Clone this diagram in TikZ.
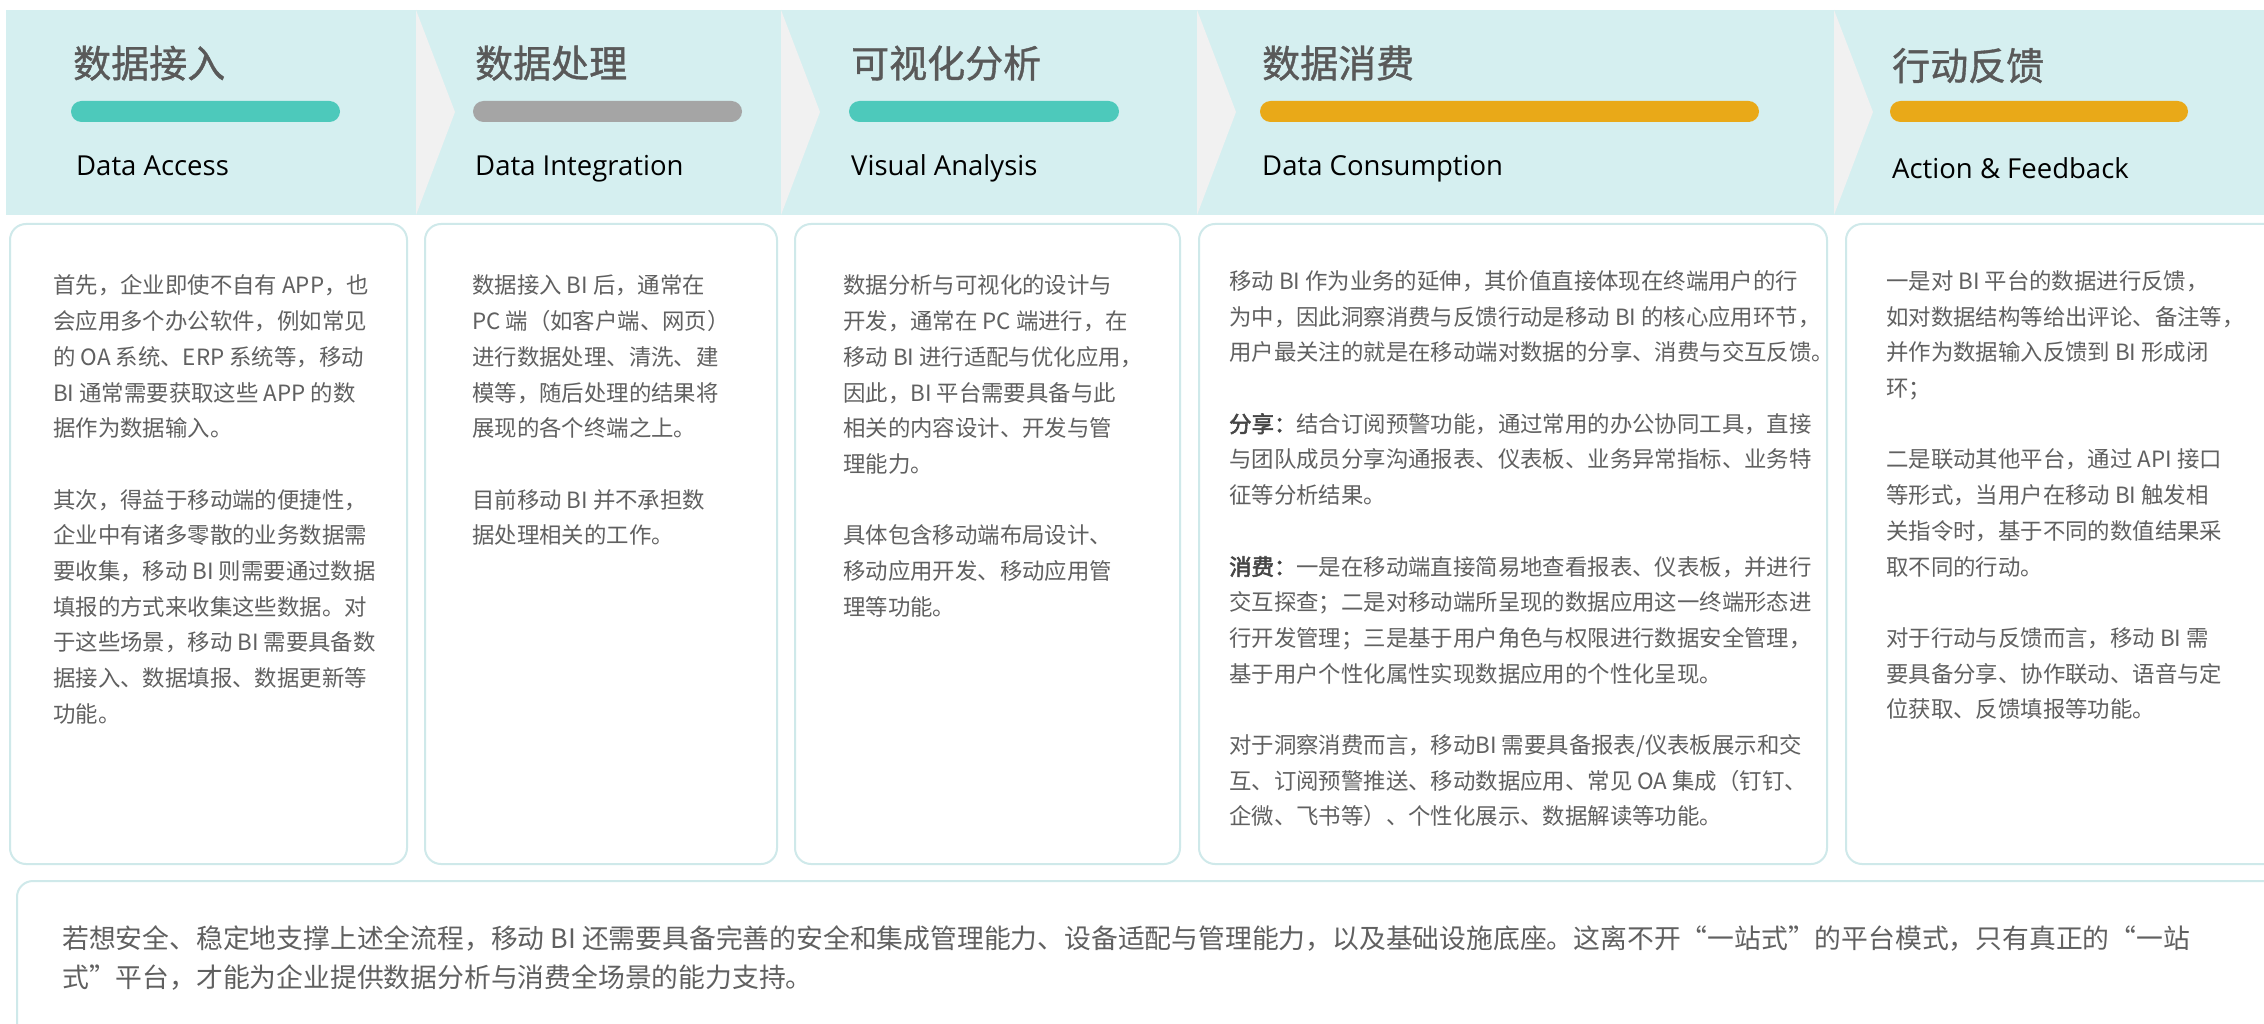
\documentclass[tikz,border=0pt]{standalone}
\usepackage{fontspec}
\setmainfont{Noto Sans CJK SC}[AutoFakeBold=2.5]
\newfontfamily\titlefont{Noto Sans CJK SC}[FakeBold=1]
\newfontfamily\latinsub{Open Sans}
\definecolor{band}{HTML}{D5EFF0}
\definecolor{chev}{HTML}{F1F1F1}
\definecolor{cardline}{HTML}{CFE9EA}
\definecolor{teal}{HTML}{4DC9BB}
\definecolor{graybar}{HTML}{A5A5A5}
\definecolor{orange}{HTML}{E9A918}
\definecolor{titletext}{HTML}{595959}
\definecolor{bodytext}{HTML}{606060}
\definecolor{boldtext}{HTML}{454545}
\tikzset{
  card/.style={draw=cardline, line width=2pt, rounded corners=16pt, fill=white},
  chevron/.style={fill=chev, draw=none},
  pill/.style={rounded corners=10.5pt, draw=none},
  title/.style={anchor=base west, inner sep=0pt, text=titletext, font=\titlefont\fontsize{38}{42}\selectfont},
  subtitle/.style={anchor=base west, inner sep=0pt, text=black, font=\latinsub\fontsize{27.5}{30}\selectfont},
  body/.style={anchor=base west, inner sep=0pt, text=bodytext, font=\fontsize{22.4}{35.7}\selectfont},
  foot/.style={anchor=base west, inner sep=0pt, text=bodytext, font=\fontsize{26.8}{39}\selectfont},
}
\newcommand{\bl}[1]{\textcolor{boldtext}{\bfseries #1}}
\newcommand{\lines}[1]{\parbox[t]{2200pt}{\raggedright #1}}
\begin{document}
\begin{tikzpicture}[x=1pt,y=-1pt]
\useasboundingbox (0,0) rectangle (2264,1024);
\clip (0,0) rectangle (2264,1024);
\fill[white] (0,0) rectangle (2264,1024);
% header band
\fill[band] (6,10) rectangle (2280,215);
\foreach \cx in {416,781,1197,1834}{
  \fill[chevron] (\cx,10) -- (\cx+39,112) -- (\cx,215) -- cycle;
}
% bars
\fill[pill, teal] (71,101) rectangle (340,122);
\fill[pill, graybar] (473,101) rectangle (742,122);
\fill[pill, teal] (849,101) rectangle (1119,122);
\fill[pill, orange] (1260,101) rectangle (1759,122);
\fill[pill, orange] (1890,101) rectangle (2188,122);
% titles
\node[title] (t1) at (73,77.5) {数据接入};
\node[title] (t2) at (475,77.5) {数据处理};
\node[title] (t3) at (851,77.5) {可视化分析};
\node[title] (t4) at (1262,77.5) {数据消费};
\node[title] (t5) at (1892,80) {行动反馈};
\node[subtitle] (s1) at (76,176) {Data Access};
\node[subtitle] (s2) at (475,176) {Data Integration};
\node[subtitle] (s3) at (851,176) {Visual Analysis};
\node[subtitle] (s4) at (1262,176) {Data Consumption};
\node[subtitle] (s5) at (1892,179) {Action \& Feedback};
% cards
\draw[card] (10,224) rectangle (407,864);
\draw[card] (425,224) rectangle (777,864);
\draw[card] (795,224) rectangle (1180,864);
\draw[card] (1199,224) rectangle (1827,864);
\draw[card] (1846,224) rectangle (2300,864);
\draw[card] (17,881) rectangle (2300,1060);
% card texts
\node[body] (b1) at (53,294) {\lines{首先，企业即使不自有 APP，也\\
会应用多个办公软件，例如常见\\
的 OA 系统、ERP 系统等，移动\\
BI 通常需要获取这些 APP 的数\\
据作为数据输入。\\[35.7pt]
其次，得益于移动端的便捷性，\\
企业中有诸多零散的业务数据需\\
要收集，移动 BI 则需要通过数据\\
填报的方式来收集这些数据。对\\
于这些场景，移动 BI 需要具备数\\
据接入、数据填报、数据更新等\\
功能。}};
\node[body] (b2) at (472,294) {\lines{数据接入 BI 后，通常在\\
PC 端（如客户端、网页）\\
进行数据处理、清洗、建\\
模等，随后处理的结果将\\
展现的各个终端之上。\\[35.7pt]
目前移动 BI 并不承担数\\
据处理相关的工作。}};
\node[body] (b3) at (843,294) {\lines{数据分析与可视化的设计与\\
开发，通常在 PC 端进行，在\\
移动 BI 进行适配与优化应用，\\
因此，BI 平台需要具备与此\\
相关的内容设计、开发与管\\
理能力。\\[35.7pt]
具体包含移动端布局设计、\\
移动应用开发、移动应用管\\
理等功能。}};
\node[body] (b4) at (1229,289.5) {\lines{移动 BI 作为业务的延伸，其价值直接体现在终端用户的行\\
为中，因此洞察消费与反馈行动是移动 BI 的核心应用环节，\\
用户最关注的就是在移动端对数据的分享、消费与交互反馈。\\[35.7pt]
\bl{分享：}结合订阅预警功能，通过常用的办公协同工具，直接\\
与团队成员分享沟通报表、仪表板、业务异常指标、业务特\\
征等分析结果。\\[35.7pt]
\bl{消费：}一是在移动端直接简易地查看报表、仪表板，并进行\\
交互探查；二是对移动端所呈现的数据应用这一终端形态进\\
行开发管理；三是基于用户角色与权限进行数据安全管理，\\
基于用户个性化属性实现数据应用的个性化呈现。\\[35.7pt]
对于洞察消费而言，移动BI 需要具备报表/仪表板展示和交\\
互、订阅预警推送、移动数据应用、常见 OA 集成（钉钉、\\
企微、飞书等）、个性化展示、数据解读等功能。}};
\node[body] (b5) at (1886,289.5) {\lines{一是对 BI 平台的数据进行反馈，\\
如对数据结构等给出评论、备注等，\\
并作为数据输入反馈到 BI 形成闭\\
环；\\[35.7pt]
二是联动其他平台，通过 API 接口\\
等形式，当用户在移动 BI 触发相\\
关指令时，基于不同的数值结果采\\
取不同的行动。\\[35.7pt]
对于行动与反馈而言，移动 BI 需\\
要具备分享、协作联动、语音与定\\
位获取、反馈填报等功能。}};
\node[foot] (f1) at (62,948) {\lines{若想安全、稳定地支撑上述全流程，移动 BI 还需要具备完善的安全和集成管理能力、设备适配与管理能力，以及基础设施底座。这离不开“一站式”的平台模式，只有真正的“一站\\
式”平台，才能为企业提供数据分析与消费全场景的能力支持。}};
\end{tikzpicture}
\end{document}
